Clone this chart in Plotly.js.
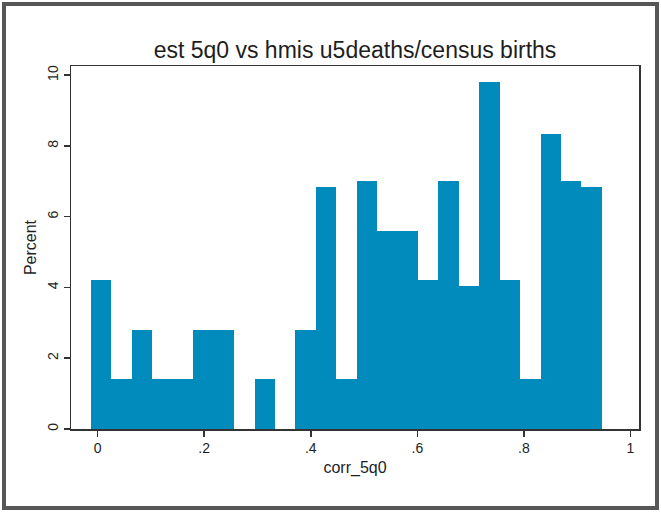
<!DOCTYPE html>
<html>
<head>
<meta charset="utf-8">
<script src="https://cdn.plot.ly/plotly-3.0.1.min.js"></script>
<style>
  html, body { margin: 0; padding: 0; background: #ffffff; }
  #wrap { position: relative; width: 661px; height: 512px; }
  #chart { width: 661px; height: 512px; }
  #frame { position: absolute; left: 2px; top: 2px; width: 657px; height: 508px;
           border: 4px solid #565656; box-sizing: border-box; pointer-events: none; }
</style>
</head>
<body>
<div id="wrap">
  <div id="chart"></div>
  <div id="frame"></div>
</div>
<script>
// Histogram of corr_5q0: 25 equal-width bins
const binStart = -0.0124;
const binWidth = 0.03835;
const percents = [4.2, 1.4, 2.8, 1.4, 1.4, 2.8, 2.8, 0, 1.4, 0, 2.8, 6.85, 1.4,
                  7.0, 5.6, 5.6, 4.2, 7.0, 4.05, 9.8, 4.2, 1.4, 8.35, 7.0, 6.85];
const xTickVals = [0, 0.2, 0.4, 0.6, 0.8, 1];
const xTickText = ['0', '.2', '.4', '.6', '.8', '1'];
const yTickVals = [0, 2, 4, 6, 8, 10];
const yTickText = ['0', '2', '4', '6', '8', '10'];

const binCenters = percents.map((_, i) => binStart + binWidth * (i + 0.5));

const fontFam = 'Liberation Sans, Arial, sans-serif';
const trace = {
  type: 'bar',
  x: binCenters,
  y: percents,
  width: binWidth,
  marker: { color: 'rgb(0,139,188)', line: { color: 'rgb(0,139,188)', width: 0 } },
  hoverinfo: 'x+y'
};

const layout = {
  width: 661, height: 512,
  margin: { l: 71, r: 22, t: 66, b: 83 },
  paper_bgcolor: '#ffffff',
  plot_bgcolor: '#ffffff',
  showlegend: false,
  bargap: 0,
  font: { family: fontFam, color: '#1e1e1e' },
  title: {
    text: 'est 5q0 vs hmis u5deaths/census births',
    font: { family: fontFam, size: 23, color: '#1e1e1e' },
    x: 0.5, xref: 'paper', xanchor: 'center',
    y: 1 - 58 / 512, yref: 'container', yanchor: 'bottom'
  },
  xaxis: {
    range: [-0.05, 1.016],
    tickvals: xTickVals, ticktext: xTickText,
    ticks: 'outside', ticklen: 6, tickwidth: 1.5, tickcolor: '#333',
    showline: true, linecolor: '#333', linewidth: 1.5, mirror: true,
    showgrid: false, zeroline: false,
    tickfont: { size: 14, color: '#1e1e1e' },
    title: { text: 'corr_5q0', font: { size: 16, color: '#1e1e1e' }, standoff: 6 },
    automargin: false
  },
  yaxis: {
    range: [0, 10.26],
    tickvals: yTickVals, ticktext: yTickText,
    tickangle: -90,
    ticks: 'outside', ticklen: 6, tickwidth: 1.5, tickcolor: '#333',
    showline: true, linecolor: '#333', linewidth: 1.5, mirror: true,
    showgrid: false, zeroline: false,
    tickfont: { size: 14, color: '#1e1e1e' },
    title: { text: 'Percent', font: { size: 16, color: '#1e1e1e' }, standoff: 4 },
    automargin: false
  }
};

Plotly.newPlot('chart', [trace], layout, { displayModeBar: false, staticPlot: true });
</script>
</body>
</html>
